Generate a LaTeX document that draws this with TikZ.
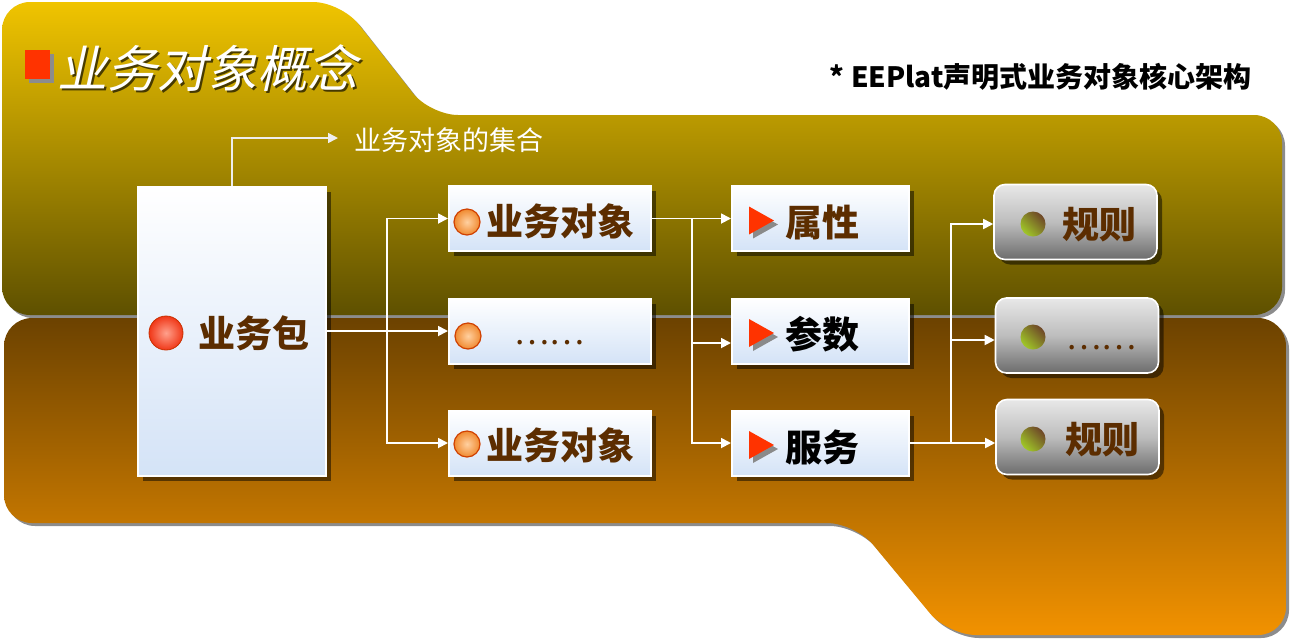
\documentclass[tikz,border=0pt]{standalone}
\usepackage{fontspec}
\newfontfamily\cjk{Noto Sans CJK SC}
\newfontfamily\cjkslant{Noto Sans CJK SC}[FakeSlant=0.22]
\usetikzlibrary{arrows.meta,shadows,calc}
\definecolor{brn}{HTML}{5C2D00}
\definecolor{bandAtop}{HTML}{F0C400}
\definecolor{bandAbot}{HTML}{5E5000}
\definecolor{bandBtop}{HTML}{6C4200}
\definecolor{bandBbot}{HTML}{F29200}
\definecolor{boxblue}{HTML}{D4E3F7}
\definecolor{redsq}{HTML}{FF3300}
\definecolor{ruletop}{HTML}{E8E8E8}
\definecolor{rulemid}{HTML}{BDBDBD}
\definecolor{rulebot}{HTML}{6C6C6C}
\definecolor{bandshadow}{HTML}{8C8C8C}
\definecolor{trishadow}{HTML}{8A8A8A}
\tikzset{
  boxshadow/.style={drop shadow={shadow xshift=5pt, shadow yshift=-5pt, opacity=0.5, fill=black}},
  box/.style={draw=white, line width=2pt, top color=white, bottom color=boxblue, inner sep=0pt, minimum height=65pt, boxshadow},
  rulebox/.style={draw=white, line width=1.6pt, rounded corners=11pt, top color=ruletop, bottom color=rulebot, middle color=rulemid, inner sep=0pt, minimum width=163pt, minimum height=75pt, boxshadow},
  redball/.style={circle, minimum size=34pt, inner sep=0pt, draw={rgb,255:red,200;green,48;blue,0}, line width=0.8pt, inner color={rgb,255:red,255;green,160;blue,140}, outer color={rgb,255:red,240;green,56;blue,24}},
  orangeball/.style={circle, minimum size=26pt, inner sep=0pt, draw={rgb,255:red,208;green,64;blue,0}, line width=1.2pt, inner color={rgb,255:red,255;green,208;blue,160}, outer color={rgb,255:red,240;green,138;blue,48}},
  greenball/.style={circle, minimum size=25pt, inner sep=0pt, top color={rgb,255:red,110;green,70;blue,40}, bottom color={rgb,255:red,160;green,200;blue,40}, shading angle=-45},
  lbl/.style={font=\cjk\bfseries\fontsize{37}{40}\selectfont, text=brn, inner sep=0pt},
  dots/.style={font=\cjk\fontsize{33}{36}\selectfont, text=brn, inner sep=0pt},
  conn/.style={draw=white, line width=1.8pt},
  arr/.style={conn, -{Triangle[length=10pt,width=10pt]}},
}
\begin{document}
\begin{tikzpicture}[x=1pt,y=-1pt]
\useasboundingbox (0,0) rectangle (1290,641);
% top band
\fill[bandshadow, xshift=3pt, yshift=-3pt, rounded corners=28pt]
  (2,200) -- (2,2) -- (341,2) -- (430,115) -- (1282,115) -- (1282,315) -- (2,315) -- cycle;
\path[top color=bandAtop, bottom color=bandAbot, rounded corners=28pt]
  (2,200) -- (2,2) -- (341,2) -- (430,115) -- (1282,115) -- (1282,315) -- (2,315) -- cycle;
% bottom band
\fill[bandshadow, xshift=3pt, yshift=-3pt, rounded corners=28pt]
  (4,420) -- (4,318) -- (1286,318) -- (1286,635) -- (948,635) -- (855,523) -- (4,523) -- cycle;
\path[top color=bandBtop, bottom color=bandBbot, rounded corners=28pt]
  (4,420) -- (4,318) -- (1286,318) -- (1286,635) -- (948,635) -- (855,523) -- (4,523) -- cycle;

% title
\fill[bandshadow] (29,54) rectangle (54,83);
\fill[redsq] (25,50) rectangle (50,79);
\node[anchor=west, inner sep=0pt, font=\cjkslant\fontsize{50}{54}\selectfont, text=black, opacity=0.65] (titleshadow) at (59.5,70.5) {业务对象概念};
\node[anchor=west, inner sep=0pt, font=\cjkslant\fontsize{50}{54}\selectfont, text=white] (title) at (57,68) {业务对象概念};
\node[anchor=east, inner sep=0pt, font=\cjk\bfseries\fontsize{28}{30}\selectfont, text=black] (header) at (1252,77) {* EEPlat声明式业务对象核心架构};

% boxes
\node[box, minimum width=188pt, minimum height=289pt] (pkg) at (232,331) {};
\node[box, minimum width=202pt] (ob1) at (550,218.5) {};
\node[box, minimum width=202pt] (ob2) at (550,331) {};
\node[box, minimum width=202pt] (ob3) at (550,443) {};
\node[box, minimum width=177pt] (pr1) at (820.5,218.5) {};
\node[box, minimum width=177pt] (pr2) at (820.5,331) {};
\node[box, minimum width=177pt] (pr3) at (820.5,443) {};
\node[rulebox] (ru1) at (1075.5,222) {};
\node[rulebox] (ru2) at (1077,335.5) {};
\node[rulebox] (ru3) at (1077.5,437) {};

% box contents
\node[redball] (pkgball) at (166,333) {};
\node[lbl] (pkgtext) at (254,333) {业务包};
\node[orangeball] (ob1ball) at (467,222) {};
\node[orangeball] (ob2ball) at (468,336) {};
\node[orangeball] (ob3ball) at (467,444) {};
\node[lbl] (ob1text) at (560,221) {业务对象};
\node[dots] (ob2text) at (549.5,343) {……};
\node[lbl] (ob3text) at (560,445) {业务对象};
\foreach \p in {pr1,pr2,pr3}{
  \fill[trishadow] ($(\p.west)+(22,-8)$) -- ++(0,28) -- ++(25,-14) -- cycle;
  \fill[redsq] ($(\p.west)+(18,-12)$) -- ++(0,28) -- ++(25,-14) -- cycle;
}
\node[lbl] (pr1text) at (822,222) {属性};
\node[lbl, text=black] (pr2text) at (822,334) {参数};
\node[lbl, text=black] (pr3text) at (822,447) {服务};
\node[greenball] (ru1ball) at (1033,224) {};
\node[greenball] (ru2ball) at (1033,337) {};
\node[greenball] (ru3ball) at (1033,439) {};
\node[lbl] (ru1text) at (1099,225) {规则};
\node[dots] (ru2text) at (1101.5,348) {……};
\node[lbl] (ru3text) at (1102,440) {规则};

% collection label
\node[anchor=west, inner sep=0pt, font=\cjk\fontsize{27}{30}\selectfont, text=white] (coll) at (354,140) {业务对象的集合};
\draw[arr, draw={rgb,255:red,238;green,238;blue,238}, line width=1.5pt] (pkg.north) |- ([xshift=-16pt,yshift=2pt]coll.west);

% connectors
\coordinate (j1) at (387,331);
\draw[arr] (pkg.east) -- (ob2.west);
\draw[arr] (j1) |- (ob1.west);
\draw[arr] (j1) |- (ob3.west);
\coordinate (j2) at (692,218.5);
\draw[arr] (ob1.east) -- (pr1.west);
\draw[arr] (j2) |- ([yshift=-12pt]pr2.west);
\draw[arr] (j2) |- (pr3.west);
\coordinate (j3) at (951,443);
\draw[arr] (pr3.east) -- ([yshift=-6pt]ru3.west);
\draw[arr] (j3) |- ([yshift=-2pt]ru1.west);
\draw[arr] (j3) |- ([yshift=-4.5pt]ru2.west);
\end{tikzpicture}
\end{document}
